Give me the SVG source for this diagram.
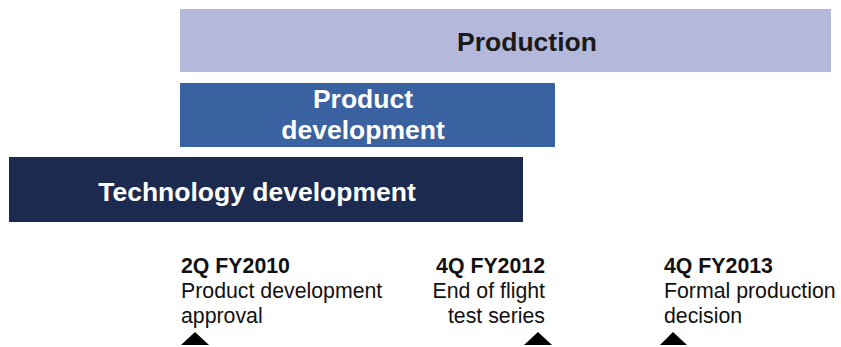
<svg xmlns="http://www.w3.org/2000/svg" width="841" height="347" viewBox="0 0 841 347">
<style>
.bar{stroke:none}
.t{font-family:"Liberation Sans",Arial,sans-serif;font-weight:bold;font-size:26.5px;text-anchor:middle}
.ms{font-family:"Liberation Sans",Arial,sans-serif;font-size:21.3px;fill:#111}
.b{font-weight:bold}
.tri{fill:#000}
</style>
<rect width="841" height="347" fill="#fff"/>
<g id="production">
<rect class="bar" x="180" y="9" width="651" height="63" fill="#b4b8da"/>
<text class="t" x="527" y="51" fill="#1a1a1a">Production</text>
</g>
<g id="product-development">
<rect class="bar" x="180" y="83" width="375" height="64" fill="#3a62a0"/>
<text class="t" x="363" y="108" fill="#fff">Product</text>
<text class="t" x="363" y="139" fill="#fff">development</text>
</g>
<g id="technology-development">
<rect class="bar" x="9" y="157" width="514" height="65" fill="#1b2a4e"/>
<text class="t" x="257" y="201" fill="#fff">Technology development</text>
</g>
<g id="milestone-1">
<text class="ms b" x="181" y="273">2Q FY2010</text>
<text class="ms" x="181" y="298">Product development</text>
<text class="ms" x="181" y="323">approval</text>
<polygon class="tri" points="181,345 195,332 209,345"/>
</g>
<g id="milestone-2">
<text class="ms b" x="545" y="273" text-anchor="end">4Q FY2012</text>
<text class="ms" x="545" y="298" text-anchor="end">End of flight</text>
<text class="ms" x="545" y="323" text-anchor="end">test series</text>
<polygon class="tri" points="524,345 538,332 552,345"/>
</g>
<g id="milestone-3">
<text class="ms b" x="664" y="273">4Q FY2013</text>
<text class="ms" x="664" y="298">Formal production</text>
<text class="ms" x="664" y="323">decision</text>
<polygon class="tri" points="660,345 673,332 687,345"/>
</g>
<g id="connectors"></g>
</svg>
